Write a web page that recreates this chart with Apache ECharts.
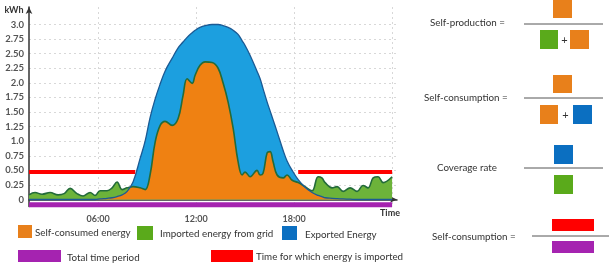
<!DOCTYPE html>
<html>
<head>
<meta charset="utf-8">
<script src="https://cdn.jsdelivr.net/npm/echarts@6/dist/echarts.min.js"></script>
<style>
html, body { margin: 0; padding: 0; background: #fff; }
#main { width: 609px; height: 273px; }
</style>
</head>
<body>
<div id="main"></div>
<script>
// time of day in hours
var hours = [1.77, 2.14, 2.57, 3.06, 3.55, 3.92, 4.29, 4.71, 5.08, 5.51, 5.82, 6.12, 6.55, 6.86, 7.16, 7.47, 7.78, 8.14, 8.57, 8.88,
	9.18, 9.49, 9.8, 10.1, 10.53, 10.9, 11.2, 11.45, 11.76, 11.94, 12.24, 12.55, 12.98, 13.35, 13.65, 13.96, 14.27, 14.57, 14.82, 15.0,
	15.31, 15.73, 15.92, 16.1, 16.35, 16.53, 16.71, 16.96, 17.33, 17.57, 17.88, 18.25, 18.67, 19.1, 19.47, 19.7, 19.9, 20.33, 20.63, 21.0,
	21.43, 21.86, 22.22, 22.53, 22.84, 23.14, 23.45, 24.0];
// PV production (kWh)
var production = [0, 0, 0, 0, 0, 0, 0, 0, 0, 0, 0, 0.01, 0.02, 0.03, 0.05, 0.08, 0.14, 0.3, 0.7, 1.0,
	1.4, 1.72, 1.98, 2.2, 2.42, 2.6, 2.7, 2.78, 2.86, 2.9, 2.95, 2.98, 3.0, 3.0, 2.98, 2.95, 2.9, 2.83, 2.72, 2.64,
	2.47, 2.2, 2.07, 1.9, 1.67, 1.52, 1.37, 1.16, 0.84, 0.66, 0.5, 0.34, 0.21, 0.12, 0.07, 0.05, 0.03, 0.02, 0.015, 0.01,
	0.005, 0, 0, 0, 0, 0, 0, 0];
// household consumption (kWh)
var consumption = [0.08, 0.12, 0.09, 0.12, 0.08, 0.1, 0.19, 0.1, 0.06, 0.12, 0.07, 0.15, 0.15, 0.2, 0.3, 0.17, 0.2, 0.22, 0.2, 0.17,
	0.42, 0.98, 1.27, 1.34, 1.27, 1.39, 1.78, 2.07, 1.99, 2.13, 2.3, 2.36, 2.35, 2.25, 2.0, 1.67, 1.22, 0.65, 0.42, 0.47,
	0.39, 0.5, 0.42, 0.45, 0.8, 0.82, 0.65, 0.42, 0.37, 0.42, 0.33, 0.29, 0.22, 0.15, 0.39, 0.37, 0.29, 0.2, 0.22, 0.14,
	0.2, 0.14, 0.24, 0.2, 0.37, 0.39, 0.29, 0.39];

var yTicks = [0, 0.25, 0.5, 0.75, 1, 1.25, 1.5, 1.75, 2, 2.25, 2.5, 2.75, 3];
var yTickLabels = ['0', '0.25', '0.50', '0.75', '1.0', '1.25', '1.50', '1.75', '2.0', '2.25', '2.50', '2.75', '3.0'];
var xTicks = [6, 12, 18];
var xTickLabels = ['06:00', '12:00', '18:00'];
var xGridHours = [6, 12, 18, 24];

var importLevel = 0.47;
var importFrom = [1.77, 18.25];
var importTo = [8.27, 24];
var periodFrom = 1.77, periodTo = 24;

var ORANGE = '#ef8112', GREEN = '#6cb33a', BLUE = '#1c9fdf';
var K_ORANGE = '#e8801b', K_GREEN = '#5aaa1b', K_BLUE = '#0b6fc1', K_RED = '#ff0000', K_PURPLE = '#a523b0';
var FONT = 'Lato';

function pairs(ys) {
	return hours.map(function (h, i) { return [h, ys[i]]; });
}
var selfConsumed = production.map(function (p, i) { return Math.min(p, consumption[i]); });

var redData = [];
importFrom.forEach(function (a, i) {
	if (i > 0) redData.push([a, '-']);
	redData.push([a, importLevel], [importTo[i], importLevel]);
});

function box(x, y, w, h, c) {
	return { type: 'rect', shape: { x: x, y: y, width: w, height: h }, style: { fill: c }, silent: true };
}
function label(x, y, t, size, align) {
	return { type: 'text', x: x, y: y, silent: true,
		style: { text: t, fontFamily: FONT, fontSize: size || 9.8, fill: '#333', align: align || 'left', verticalAlign: 'middle' } };
}
function bar(x1, x2, y) {
	return { type: 'line', shape: { x1: x1, y1: y, x2: x2, y2: y }, style: { stroke: '#555', lineWidth: 1 }, silent: true };
}

var graphics = [
	label(14, 10, 'kWh', 9, 'center'),
	label(380, 213, 'Time', 9, 'left'),
	// legend
	box(18, 225, 14, 13, K_ORANGE), label(35, 233, 'Self-consumed energy'),
	box(137, 226, 16, 14, K_GREEN), label(160, 234, 'Imported energy from grid'),
	box(282, 226, 15, 14, K_BLUE), label(305, 235, 'Exported Energy'),
	box(18, 250, 43, 12, K_PURPLE), label(67, 258, 'Total time period'),
	box(211, 250, 42, 12, K_RED), label(256, 257, 'Time for which energy is imported'),
	// formulas
	label(430, 23, 'Self-production ='), bar(524, 603, 24),
	box(553, 0, 19, 18, K_ORANGE),
	box(540, 30, 18, 19, K_GREEN), label(564.5, 40, '+', 11, 'center'), box(570, 30, 19, 19, K_ORANGE),
	label(424, 98, 'Self-consumption ='), bar(524, 603, 98),
	box(553, 75, 19, 18, K_ORANGE),
	box(540, 105, 18, 19, K_ORANGE), label(565.5, 115, '+', 11, 'center'), box(573, 105, 19, 19, K_BLUE),
	label(437, 168, 'Coverage rate'), bar(524, 603, 168),
	box(554, 145, 19, 19, K_BLUE),
	box(554, 175, 19, 19, K_GREEN),
	label(432, 237, 'Self-consumption ='), bar(532, 609, 236),
	box(552, 219, 42, 12, K_RED),
	box(552, 241, 42, 12, K_PURPLE)
];
graphics[0].style.fontWeight = 'bold';
graphics[1].style.fontWeight = 'bold';

var myChart = echarts.init(document.getElementById('main'));
var option = {
	animation: false,
	grid: { left: 29, right: 212, top: 7, bottom: 66.5 },
	xAxis: {
		type: 'value',
		min: periodFrom,
		max: 24.3,
		axisLine: { lineStyle: { color: '#333', width: 1.5 }, symbol: ['none', 'arrow'], symbolSize: [5, 7] },
		axisTick: { show: false, customValues: xGridHours },
		axisLabel: {
			customValues: xTicks, margin: 8, fontSize: 9, fontFamily: FONT, fontWeight: 'bold', color: '#555',
			formatter: function (v) { return xTickLabels[xTicks.indexOf(v)]; }
		},
		splitLine: { show: true, lineStyle: { color: '#d8d8d8', type: [2, 3] } }
	},
	yAxis: {
		type: 'value',
		min: -0.12,
		max: 3.3,
		axisLine: { show: true, lineStyle: { color: '#333', width: 1.5 }, symbol: ['none', 'arrow'], symbolSize: [5, 7] },
		axisTick: { show: false, customValues: yTicks },
		axisLabel: {
			customValues: yTicks, margin: 5, fontSize: 9.5, fontFamily: FONT, fontWeight: 'bold', color: '#555',
			formatter: function (v) { return yTickLabels[yTicks.indexOf(v)]; }
		},
		splitLine: { show: true, lineStyle: { color: '#d8d8d8', type: [2, 3] } }
	},
	series: [
		{ name: 'Exported Energy', type: 'line', data: pairs(production), smooth: 0.4, symbol: 'none',
			lineStyle: { width: 0 }, areaStyle: { color: BLUE, opacity: 1 } },
		{ name: 'Imported energy from grid', type: 'line', data: pairs(consumption), smooth: 0.4, symbol: 'none',
			lineStyle: { width: 0 }, areaStyle: { color: GREEN, opacity: 1 } },
		{ name: 'Self-consumed energy', type: 'line', data: pairs(selfConsumed), smooth: 0.4, symbol: 'none',
			lineStyle: { width: 0 }, areaStyle: { color: ORANGE, opacity: 1 } },
		{ name: 'consumption', type: 'line', data: pairs(consumption), smooth: 0.4, symbol: 'none',
			lineStyle: { width: 1.6, color: '#236b3a' } },
		{ name: 'production', type: 'line', data: pairs(production), smooth: 0.4, symbol: 'none',
			lineStyle: { width: 1.3, color: '#1b5a94' } },
		{ name: 'Time for which energy is imported', type: 'line', data: redData, symbol: 'none', connectNulls: false,
			lineStyle: { width: 4, color: K_RED } },
		{ name: 'Total time period', type: 'line', data: [[periodFrom, -0.09], [periodTo, -0.09]], symbol: 'none',
			lineStyle: { width: 5, color: K_PURPLE } }
	],
	graphic: graphics
};
myChart.setOption(option);
</script>
</body>
</html>
